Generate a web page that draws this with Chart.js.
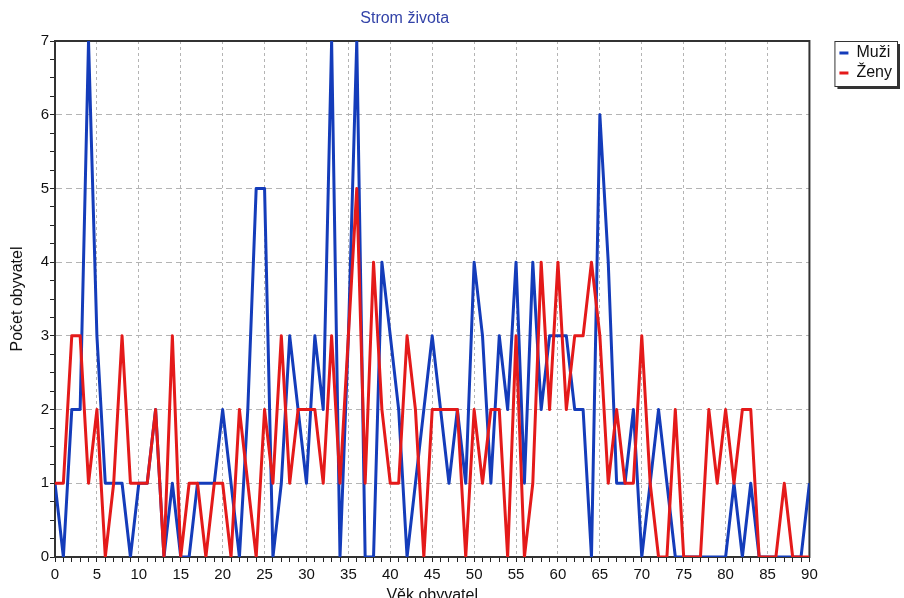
<!DOCTYPE html>
<html lang="cs">
<head>
<meta charset="UTF-8">
<title>Strom života</title>
<script src="https://cdn.jsdelivr.net/npm/chart.js"></script>
<style>
  html, body { margin: 0; padding: 0; background: #fff; }
  #graf-box { width: 904px; height: 598px; }
</style>
</head>
<body>
<div id="graf-box"><canvas id="graf"></canvas></div>
<script>
  // vek obyvatel (osa x)
  const vek = [0,1,2,3,4,5,6,7,8,9,10,11,12,13,14,15,16,17,18,19,20,21,22,23,24,25,26,27,28,29,
    30,31,32,33,34,35,36,37,38,39,40,41,42,43,44,45,46,47,48,49,50,51,52,53,54,55,56,57,58,59,
    60,61,62,63,64,65,66,67,68,69,70,71,72,73,74,75,76,77,78,79,80,81,82,83,84,85,86,87,88,89,90];

  // pocet obyvatel podle veku
  const muzi = [1,0,2,2,7,3,1,1,1,0, 1,1,2,0,1,0,0,1,1,1, 2,1,0,2,5,5,0,1,3,2,
    1,3,2,7,0,3,7,0,0,4, 3,2,0,1,2,3,2,1,2,1, 4,3,1,3,2,4,1,4,2,3,
    3,3,2,2,0,6,4,1,1,2, 0,1,2,1,0,0,0,0,0,0, 0,1,0,1,0,0,0,0,0,0, 1];
  const zeny = [1,1,3,3,1,2,0,1,3,1, 1,1,2,0,3,0,1,1,0,1, 1,0,2,1,0,2,1,3,1,2,
    2,2,1,3,1,3,5,1,4,2, 1,1,3,2,0,2,2,2,2,0, 2,1,2,2,0,3,0,1,4,2,
    4,2,3,3,4,3,1,2,1,1, 3,1,0,0,2,0,0,0,2,1, 2,1,2,2,0,0,0,1,0,0, 0];

  const popiskyX = [0,5,10,15,20,25,30,35,40,45,50,55,60,65,70,75,80,85,90];
  const popiskyY = [0,1,2,3,4,5,6,7];

  const nazev = 'Strom života';
  const modra = 'rgb(20,60,186)';
  const cervena = 'rgb(228,26,26)';
  const mrizka = '#b4b4b4';

  Chart.defaults.font.family = '"Liberation Sans", Arial, sans-serif';
  Chart.defaults.color = '#111';

  // nadpis nad grafem (vystredeny na levou cast bez legendy)
  const titulek = {
    id: 'titulek',
    afterDraw(chart) {
      const ctx = chart.ctx;
      ctx.save();
      ctx.font = '16px "Liberation Sans", Arial, sans-serif';
      ctx.fillStyle = '#3343a8';
      ctx.textAlign = 'center';
      ctx.textBaseline = 'middle';
      ctx.fillText(nazev, chart.chartArea.right / 2, 19);
      ctx.restore();
    }
  };

  // ramecek okolo plochy grafu
  const ramecek = {
    id: 'ramecek',
    beforeDatasetsDraw(chart) {
      const a = chart.chartArea;
      const ctx = chart.ctx;
      ctx.save();
      ctx.strokeStyle = '#333';
      ctx.lineWidth = 2;
      ctx.strokeRect(a.left, a.top, a.right - a.left, a.bottom - a.top);
      ctx.restore();
    }
  };

  // ramecek se stinem okolo legendy
  const ramecekLegendy = {
    id: 'ramecekLegendy',
    beforeDraw(chart) {
      const boxy = chart.legend && chart.legend.legendHitBoxes;
      if (!boxy || !boxy.length) return;
      let x1 = Infinity, y1 = Infinity, x2 = -Infinity, y2 = -Infinity;
      boxy.forEach(b => {
        x1 = Math.min(x1, b.left); y1 = Math.min(y1, b.top);
        x2 = Math.max(x2, b.left + b.width); y2 = Math.max(y2, b.top + b.height);
      });
      x1 -= 5; y1 -= 4; x2 += 5; y2 += 5;
      const ctx = chart.ctx;
      ctx.save();
      ctx.fillStyle = '#333';
      ctx.fillRect(x1 + 3, y1 + 3, x2 - x1, y2 - y1);
      ctx.fillStyle = '#fff';
      ctx.fillRect(x1, y1, x2 - x1, y2 - y1);
      ctx.strokeStyle = '#333';
      ctx.lineWidth = 1;
      ctx.strokeRect(x1 + 0.5, y1 + 0.5, x2 - x1, y2 - y1);
      ctx.restore();
    }
  };

  const graf = new Chart(document.getElementById('graf'), {
    type: 'line',
    data: {
      labels: vek,
      datasets: [{
        label: 'Muži',
        data: muzi,
        borderColor: modra,
        backgroundColor: modra,
        borderWidth: 3,
        borderJoinStyle: 'round',
        pointRadius: 0,
        tension: 0,
        order: 1
      }, {
        label: 'Ženy',
        data: zeny,
        borderColor: cervena,
        backgroundColor: cervena,
        borderWidth: 3,
        borderJoinStyle: 'round',
        pointRadius: 0,
        tension: 0,
        order: 0
      }]
    },
    options: {
      responsive: true,
      maintainAspectRatio: false,
      animation: false,
      devicePixelRatio: 1,
      layout: { padding: { top: 41, left: 0, right: 2, bottom: -8 } },
      plugins: {
        title: { display: false },
        tooltip: { enabled: false },
        legend: {
          position: 'right',
          align: 'start',
          fullSize: false,
          labels: {
            boxWidth: 9,
            boxHeight: 3,
            padding: 4,
            color: '#111',
            font: { size: 16, lineHeight: 1 },
            sort: (a, b) => a.datasetIndex - b.datasetIndex,
            generateLabels: ch => Chart.defaults.plugins.legend.labels.generateLabels(ch)
              .map(l => Object.assign(l, { lineWidth: 0 }))
          }
        }
      },
      scales: {
        x: {
          type: 'linear',
          min: 0,
          max: 90,
          afterFit: s => { s.height = 49; },
          ticks: {
            stepSize: 1,
            maxTicksLimit: 200,
            autoSkip: false,
            maxRotation: 0,
            padding: 4,
            font: { size: 15 },
            callback: v => popiskyX.includes(v) ? String(v) : ''
          },
          grid: {
            color: c => (c.tick && popiskyX.includes(c.tick.value)) ? mrizka : 'rgba(0,0,0,0)',
            lineWidth: 1,
            tickColor: '#222',
            tickLength: 5,
            tickBorderDash: []
          },
          border: { color: '#222', width: 2, dash: [3, 3] },
          title: { display: true, text: 'Věk obyvatel', font: { size: 16 }, padding: { top: 0, bottom: 1 } }
        },
        y: {
          min: 0,
          max: 7,
          afterFit: s => { s.width = 55; },
          ticks: {
            stepSize: 0.25,
            maxTicksLimit: 200,
            autoSkip: false,
            padding: 1,
            font: { size: 15 },
            callback: v => popiskyY.includes(v) ? String(v) : ''
          },
          grid: {
            color: c => (c.tick && popiskyY.includes(c.tick.value)) ? mrizka : 'rgba(0,0,0,0)',
            lineWidth: 1,
            tickColor: '#222',
            tickLength: 5,
            tickBorderDash: []
          },
          border: { color: '#222', width: 2, dash: [6, 4] },
          title: { display: true, text: 'Počet obyvatel', font: { size: 16 }, padding: { top: 8, bottom: 0 } }
        },
        y2: {
          position: 'right',
          display: true,
          afterFit: s => { s.width = 26; },
          grid: { display: false },
          ticks: { display: false },
          border: { display: false }
        }
      }
    },
    plugins: [titulek, ramecek, ramecekLegendy]
  });
</script>
</body>
</html>
